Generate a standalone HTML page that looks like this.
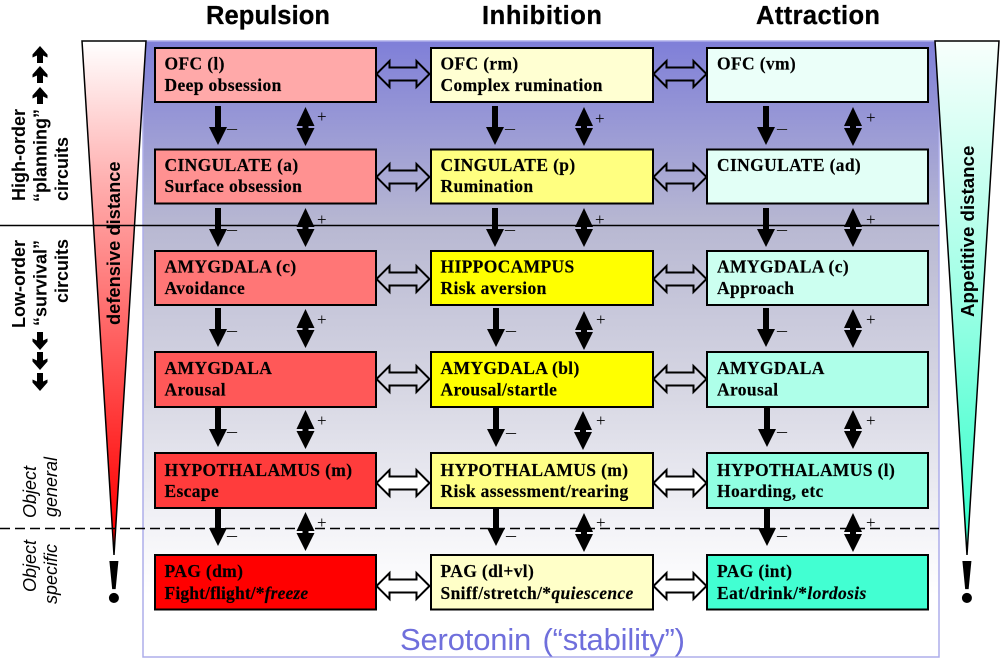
<!DOCTYPE html>
<html><head><meta charset="utf-8">
<style>
html,body{margin:0;padding:0;background:#fff}
svg{display:block}
.b{font:bold 17.5px "Liberation Serif",serif;fill:#000;letter-spacing:.35px;stroke:#000;stroke-width:.15}
.t{font:bold 25.5px "Liberation Sans",sans-serif;fill:#000;stroke:#000;stroke-width:.3}
.l{font:bold 18px "Liberation Sans",sans-serif;fill:#000}
.o{font:italic 18px "Liberation Sans",sans-serif;fill:#000}
.m{font:20px "Liberation Serif",serif;fill:#222}
.p{font:17px "Liberation Serif",serif;fill:#000}
.x{font:bold 62px "Liberation Serif",serif;fill:#000}
</style></head><body>
<svg width="1000" height="661" viewBox="0 0 1000 661" xmlns="http://www.w3.org/2000/svg">
<defs>
<linearGradient id="bg" x1="0" y1="0" x2="0" y2="1">
<stop offset="0" stop-color="#7f7fd8"/><stop offset=".3" stop-color="#b8b8d2"/><stop offset=".58" stop-color="#d8d8e4"/><stop offset=".8" stop-color="#f4f4f8"/><stop offset=".9" stop-color="#fff"/></linearGradient>
<linearGradient id="lt" x1="0" y1="0" x2="0" y2="1"><stop offset="0" stop-color="#fff"/><stop offset=".3" stop-color="#ffa8a8"/><stop offset=".95" stop-color="#ff0000"/></linearGradient>
<linearGradient id="rt" x1="0" y1="0" x2="0" y2="1"><stop offset="0" stop-color="#f8fffc"/><stop offset=".45" stop-color="#a8ffe8"/><stop offset=".95" stop-color="#38ffcc"/></linearGradient>
<path id="dn" d="M-3 0H3V21H9L0 39L-9 21H-3Z" fill="#000"/>
<path id="db" d="M0 0L9 19H3V21H9L0 39L-9 21H-3V19H-9Z" fill="#000"/>
<path id="h" d="M-26.500 0L-13.500 -13V-6.500H13.500V-13L26.500 0L13.500 13V6.500H-13.500V13Z" stroke="#000" stroke-width="2" fill="none"/>
<path id="hw" d="M-26.500 0L-13.500 -13V-6.500H13.500V-13L26.500 0L13.500 13V6.500H-13.500V13Z" stroke="#000" stroke-width="2" fill="#fff"/>
<path id="ua" d="M0 0L7.500 8.500V11.500L3 9.500V17H-3V9.500L-7.500 11.500V8.500Z" fill="#000"/>
<path id="da" d="M0 18L7.500 9.500V6.500L3 8.500V0H-3V8.500L-7.500 6.500V9.500Z" fill="#000"/>
</defs>

<rect x="143" y="41" width="796" height="616" fill="url(#bg)" stroke="#adadea" stroke-width="1.500"/>
<path d="M82 41H146L114 555Z" fill="url(#lt)" stroke="#000" stroke-width="1.500"/>
<path d="M935 41H999L967 555Z" fill="url(#rt)" stroke="#000" stroke-width="1.500"/>

<path d="M0 225.500H939" stroke="#000" stroke-width="1.500"/>
<path d="M0 528.500H939" stroke="#000" stroke-width="1.500" stroke-dasharray="10 5"/>

<g stroke="#000" stroke-width="2">
<rect x="155" y="48" width="221" height="54" fill="#ffa9a9"/>
<rect x="431" y="48" width="222" height="54" fill="#ffffd2"/>
<rect x="707" y="48" width="221" height="54" fill="#ebfff9"/>
<rect x="155" y="149.500" width="221" height="54" fill="#ff9191"/>
<rect x="431" y="149.500" width="222" height="54" fill="#ffff80"/>
<rect x="707" y="149.500" width="221" height="54" fill="#e2fff6"/>
<rect x="155" y="251" width="221" height="54" fill="#ff7676"/>
<rect x="431" y="251" width="222" height="54" fill="#ffff00"/>
<rect x="707" y="251" width="221" height="54" fill="#ccfff0"/>
<rect x="155" y="352" width="221" height="55" fill="#ff5858"/>
<rect x="431" y="352" width="222" height="55" fill="#ffff00"/>
<rect x="707" y="352" width="221" height="55" fill="#aeffe9"/>
<rect x="155" y="453" width="221" height="55" fill="#ff3c3c"/>
<rect x="431" y="453" width="222" height="55" fill="#ffff86"/>
<rect x="707" y="453" width="221" height="55" fill="#90ffe2"/>
<rect x="155" y="555" width="221" height="54.500" fill="#ff0000"/>
<rect x="431" y="555" width="222" height="54.500" fill="#ffffc8"/>
<rect x="707" y="555" width="221" height="54.500" fill="#42ffd2"/>
</g>

<g>
<use href="#h" x="403" y="74"/><use href="#h" x="680" y="74"/>
<use href="#h" x="403" y="177"/><use href="#h" x="680" y="177"/>
<use href="#h" x="403" y="279"/><use href="#h" x="680" y="279"/>
<use href="#h" x="403" y="379"/><use href="#h" x="680" y="379"/>
<use href="#hw" x="403" y="483"/><use href="#hw" x="680" y="483"/>
<use href="#hw" x="403" y="586"/><use href="#hw" x="680" y="586"/>
</g>

<g>
<use href="#dn" x="218" y="106"/><use href="#db" x="305.500" y="107"/>
<use href="#dn" x="495" y="106"/><use href="#db" x="584" y="107"/>
<use href="#dn" x="766" y="106"/><use href="#db" x="853" y="107"/>
<use href="#dn" x="218" y="208"/><use href="#db" x="305.500" y="208"/>
<use href="#dn" x="495" y="208"/><use href="#db" x="584" y="208"/>
<use href="#dn" x="766" y="208"/><use href="#db" x="853" y="208"/>
<use href="#dn" x="218" y="308"/><use href="#db" x="305.500" y="309"/>
<use href="#dn" x="496" y="308"/><use href="#db" x="584" y="311"/>
<use href="#dn" x="766" y="308"/><use href="#db" x="853" y="309"/>
<use href="#dn" x="218" y="408"/><use href="#db" x="305.500" y="410"/>
<use href="#dn" x="496" y="408"/><use href="#db" x="583" y="411"/>
<use href="#dn" x="767" y="408"/><use href="#db" x="853" y="410"/>
<use href="#dn" x="218" y="507"/><use href="#db" x="305.500" y="512"/>
<use href="#dn" x="496" y="507"/><use href="#db" x="584" y="513"/>
<use href="#dn" x="767" y="507"/><use href="#db" x="853" y="513"/>
</g>

<text class="m" x="227" y="134">–</text><text class="p" x="317" y="122">+</text>
<text class="m" x="505" y="134">–</text><text class="p" x="595" y="124">+</text>
<text class="m" x="777" y="134">–</text><text class="p" x="866" y="123">+</text>
<text class="m" x="227" y="235">–</text><text class="p" x="317" y="225">+</text>
<text class="m" x="505" y="235">–</text><text class="p" x="595" y="225">+</text>
<text class="m" x="777" y="235">–</text><text class="p" x="866" y="225">+</text>
<text class="m" x="227" y="336">–</text><text class="p" x="317" y="325">+</text>
<text class="m" x="506" y="336">–</text><text class="p" x="596" y="325">+</text>
<text class="m" x="777" y="336">–</text><text class="p" x="866" y="325">+</text>
<text class="m" x="227" y="437">–</text><text class="p" x="317" y="426">+</text>
<text class="m" x="506" y="438">–</text><text class="p" x="596" y="426">+</text>
<text class="m" x="777" y="437">–</text><text class="p" x="866" y="426">+</text>
<text class="m" x="227" y="541">–</text><text class="p" x="317" y="528">+</text>
<text class="m" x="506" y="541">–</text><text class="p" x="596" y="528">+</text>
<text class="m" x="777" y="541">–</text><text class="p" x="866" y="528">+</text>

<text class="t" x="206" y="24" textLength="124">Repulsion</text>
<text class="t" x="482" y="24" textLength="120">Inhibition</text>
<text class="t" x="756" y="24" textLength="124">Attraction</text>

<text class="b" x="164.500" y="69.500">OFC (l)</text><text class="b" x="164.500" y="91">Deep obsession</text>
<text class="b" x="440.500" y="69.500">OFC (rm)</text><text class="b" x="440.500" y="91">Complex rumination</text>
<text class="b" x="717" y="69.500">OFC (vm)</text>
<text class="b" x="164.500" y="171">CINGULATE (a)</text><text class="b" x="164.500" y="192">Surface obsession</text>
<text class="b" x="440.500" y="171">CINGULATE (p)</text><text class="b" x="440.500" y="192">Rumination</text>
<text class="b" x="717" y="171">CINGULATE (ad)</text>
<text class="b" x="164.500" y="272.500">AMYGDALA (c)</text><text class="b" x="164.500" y="294">Avoidance</text>
<text class="b" x="440.500" y="272.500">HIPPOCAMPUS</text><text class="b" x="440.500" y="294">Risk aversion</text>
<text class="b" x="717" y="272.500">AMYGDALA (c)</text><text class="b" x="717" y="294">Approach</text>
<text class="b" x="164.500" y="374">AMYGDALA</text><text class="b" x="164.500" y="395.500">Arousal</text>
<text class="b" x="440.500" y="374">AMYGDALA (bl)</text><text class="b" x="440.500" y="395.500">Arousal/startle</text>
<text class="b" x="717" y="374">AMYGDALA</text><text class="b" x="717" y="395.500">Arousal</text>
<text class="b" x="164.500" y="476">HYPOTHALAMUS (m)</text><text class="b" x="164.500" y="497">Escape</text>
<text class="b" x="440.500" y="476">HYPOTHALAMUS (m)</text><text class="b" x="440.500" y="497">Risk assessment/rearing</text>
<text class="b" x="717" y="476">HYPOTHALAMUS (l)</text><text class="b" x="717" y="497">Hoarding, etc</text>
<text class="b" x="164.500" y="577">PAG (dm)</text><text class="b" x="164.500" y="599" textLength="144">Fight/flight/*<tspan font-style="italic">freeze</tspan></text>
<text class="b" x="440.500" y="577">PAG (dl+vl)</text><text class="b" x="440.500" y="599">Sniff/stretch/*<tspan font-style="italic">quiescence</tspan></text>
<text class="b" x="717" y="577">PAG (int)</text><text class="b" x="717" y="599">Eat/drink/*<tspan font-style="italic">lordosis</tspan></text>

<text class="l" transform="translate(25 201) rotate(-90)">High-order</text>
<text class="l" transform="translate(46.500 202) rotate(-90)">“planning”</text>
<text class="l" transform="translate(68 201) rotate(-90)">circuits</text>
<text class="l" transform="translate(25 328) rotate(-90)">Low-order</text>
<text class="l" transform="translate(46.500 326) rotate(-90)">“survival”</text>
<text class="l" transform="translate(68 303) rotate(-90)">circuits</text>

<use href="#ua" x="40" y="46"/><use href="#ua" x="40" y="66"/><use href="#ua" x="40" y="87"/>
<use href="#da" x="40" y="332"/><use href="#da" x="40" y="352"/><use href="#da" x="40" y="373"/>

<text class="o" transform="translate(36 518) rotate(-90)">Object</text>
<text class="o" transform="translate(57 517) rotate(-90)">general</text>
<text class="o" transform="translate(36 592) rotate(-90)">Object</text>
<text class="o" transform="translate(57 604) rotate(-90)">specific</text>

<text class="l" transform="translate(120 325) rotate(-90)" style="font-size:18.300px">defensive distance</text>
<text class="l" transform="translate(974 317) rotate(-90)" style="font-size:18.700px">Appetitive distance</text>

<text class="x" x="114" y="602" text-anchor="middle">!</text>
<text class="x" x="967" y="602" text-anchor="middle">!</text>

<text x="400" y="650" textLength="285" style="font:31px 'Liberation Sans',sans-serif;fill:#6f6fdc;word-spacing:3px">Serotonin (“stability”)</text>
</svg>
</body></html>
